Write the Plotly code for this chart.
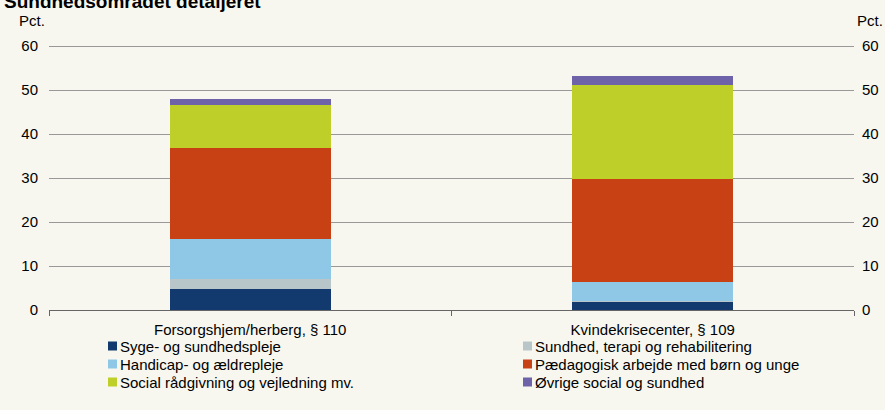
import plotly.graph_objects as go

categories = ["Forsorgshjem/herberg, § 110", "Kvindekrisecenter, § 109"]

series_names = [
    "Syge- og sundhedspleje",
    "Sundhed, terapi og rehabilitering",
    "Handicap- og ældrepleje",
    "Pædagogisk arbejde med børn og unge",
    "Social rådgivning og vejledning mv.",
    "Øvrige social og sundhed",
]
syge = [4.7, 1.9]
sundhed = [2.3, 0.15]
handicap = [9.2, 4.35]
paedagogisk = [20.55, 23.35]
social = [9.85, 21.3]
oevrige = [1.35, 2.2]

colors = ["#133a6f", "#b8c6ca", "#8fc8e6", "#c84114", "#bfcf2a", "#6e62a8"]

FONT = "Liberation Sans, Arial, sans-serif"
BG = "#f7f7f0"

# page geometry (pixels) of the plotting area
W, H = 885, 410
L, R, T, B = 49, 854, 45, 310


def px(x):
    return (x - L) / (R - L)


def py(y):
    return (B - y) / (B - T)


fig = go.Figure()
values = [syge, sundhed, handicap, paedagogisk, social, oevrige]
for name, vals, col in zip(series_names, values, colors):
    fig.add_trace(go.Bar(
        x=categories, y=vals, name=name,
        marker=dict(color=col, line=dict(width=0)),
        showlegend=False,
    ))

# right-hand axis copy
fig.add_trace(go.Scatter(x=categories, y=[0, 0], yaxis="y2",
                         mode="markers", marker=dict(opacity=0),
                         showlegend=False, hoverinfo="skip"))

# legend drawn as two columns, three rows
shapes = []
annotations = []
for i, (name, col) in enumerate(zip(series_names, colors)):
    cx = 108 if i % 2 == 0 else 523
    cy = 346 + 18 * (i // 2)
    shapes.append(dict(type="rect", xref="paper", yref="paper",
                       x0=px(cx), x1=px(cx + 9), y0=py(cy + 4.5), y1=py(cy - 4.5),
                       fillcolor=col, line=dict(width=0)))
    annotations.append(dict(text=name, xref="paper", yref="paper",
                            x=px(cx + 10), y=py(cy), xanchor="left", yanchor="middle",
                            showarrow=False, font=dict(size=15, color="#000000")))

annotations += [
    dict(text="Pct.", xref="paper", yref="paper", x=px(47), y=py(20),
         xanchor="right", yanchor="middle", showarrow=False, font=dict(size=15)),
    dict(text="Pct.", xref="paper", yref="paper", x=px(885), y=py(20),
         xanchor="right", yanchor="middle", showarrow=False, font=dict(size=15)),
    dict(text="<b>Sundhedsområdet detaljeret</b>", xref="paper", yref="paper",
         x=px(2), y=py(1), xanchor="left", yanchor="middle",
         showarrow=False, font=dict(size=19)),
]

fig.update_layout(
    width=W, height=H,
    margin=dict(l=L, r=W - R, t=T, b=H - B, pad=0, autoexpand=False),
    paper_bgcolor=BG, plot_bgcolor=BG,
    font=dict(family=FONT, size=15, color="#000000"),
    barmode="stack",
    bargap=0.6,
    shapes=shapes,
    annotations=annotations,
    xaxis=dict(
        type="category", range=[-0.5, 1.5], automargin=False,
        showline=True, linecolor="#666666", linewidth=1,
        ticks="outside", tickson="boundaries", ticklen=5, tickcolor="#666666",
        showgrid=False, tickfont=dict(size=15), ticklabelstandoff=6,
    ),
    yaxis=dict(
        range=[0, 60.25], dtick=10, showgrid=True, gridcolor="#999999", gridwidth=1,
        zeroline=False, showline=False, ticks="", ticklabelstandoff=10,
        tickfont=dict(size=15), automargin=False,
    ),
    yaxis2=dict(
        range=[0, 60.25], dtick=10, overlaying="y", side="right",
        showgrid=False, zeroline=False, showline=False, ticks="",
        ticklabelstandoff=7, tickfont=dict(size=15), automargin=False,
    ),
)

# drop the page's default body margin so the figure sits at the window's corner
fig.write_html("out.html", config={"displayModeBar": False},
               post_script="document.body.style.margin='0';")
